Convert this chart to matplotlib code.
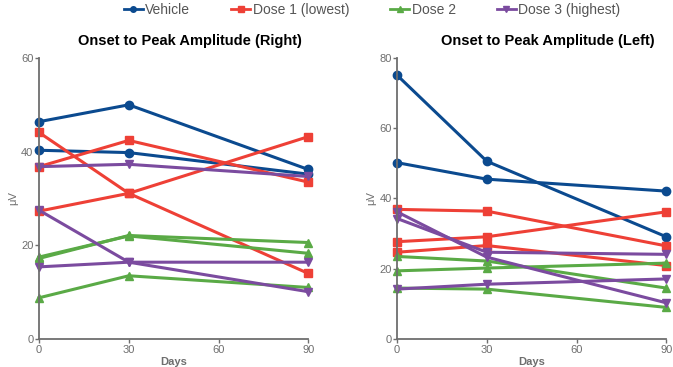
import matplotlib
matplotlib.use("Agg")
import matplotlib.pyplot as plt
from matplotlib.lines import Line2D

plt.rcParams["font.family"] = ["Liberation Sans", "DejaVu Sans"]

days = [0, 30, 90]

groups = ["Vehicle", "Dose 1 (lowest)", "Dose 2", "Dose 3 (highest)"]
colors = ["#0b4a8f", "#ee4036", "#5aaa46", "#7b4b9f"]
markers = ["o", "s", "^", "v"]

# onset to peak amplitude (µV), one list per animal
right_vehicle = [[46.4, 50.0, 36.2], [40.3, 39.8, 35.2]]
right_dose1 = [[44.1, 31.1, 14.0], [36.8, 42.4, 33.5], [27.3, 31.1, 43.2]]
right_dose2 = [[17.2, 22.1, 20.6], [17.5, 22.0, 18.3], [8.8, 13.5, 11.0]]
right_dose3 = [[36.8, 37.3, 34.7], [27.5, 16.4, 10.1], [15.4, 16.4, 16.4]]

left_vehicle = [[75.1, 50.6, 29.1], [50.2, 45.5, 42.1]]
left_dose1 = [[36.9, 36.4, 26.5], [27.7, 29.1, 36.2], [24.7, 26.6, 20.9]]
left_dose2 = [[23.5, 22.2, 14.5], [19.4, 20.2, 21.6], [14.5, 14.2, 9.0]]
left_dose3 = [[36.2, 23.3, 10.3], [34.3, 24.7, 24.1], [14.2, 15.6, 17.1]]

grey = "#6e6e6e"


def draw_panel(ax, data, title, ymax):
    for series, c, m in zip(data, colors, markers):
        for vals in series:
            ax.plot(days, vals, color=c, marker=m, markersize=6,
                    linewidth=2.2, clip_on=False)
    ax.set_xlim(0, 90)
    ax.set_ylim(0, ymax)
    ax.set_xticks([0, 30, 60, 90])
    ax.set_yticks(range(0, ymax + 1, 20))
    for s in ["top", "right"]:
        ax.spines[s].set_visible(False)
    for s in ["left", "bottom"]:
        ax.spines[s].set_color(grey)
        ax.spines[s].set_linewidth(1.3)
    ax.tick_params(colors=grey, labelsize=8, length=3, width=1, pad=1)
    ax.set_title(title, fontsize=10.5, fontweight="bold", pad=9, x=0.56)
    ax.set_xlabel("Days", fontsize=8, fontweight="bold", color=grey, labelpad=2)
    ax.set_ylabel("μV", fontsize=8, color=grey, labelpad=2)


fig = plt.figure(figsize=(6.73, 3.67), dpi=100)
ax1 = fig.add_axes([0.058, 0.0763, 0.4, 0.7657])
ax2 = fig.add_axes([0.59, 0.0763, 0.4, 0.7657])

draw_panel(ax1, [right_vehicle, right_dose1, right_dose2, right_dose3],
           "Onset to Peak Amplitude (Right)", 60)
draw_panel(ax2, [left_vehicle, left_dose1, left_dose2, left_dose3],
           "Onset to Peak Amplitude (Left)", 80)

handles = [Line2D([], [], color=c, marker=m, markersize=4, linewidth=2)
           for c, m in zip(colors, markers)]
leg = fig.legend(handles, groups, loc="upper left", bbox_to_anchor=(0.165, 1.027),
                 ncol=4, frameon=False, fontsize=10, handlelength=1.4,
                 handletextpad=0.15, columnspacing=2.95)
for t in leg.get_texts():
    t.set_color("#555555")

fig.savefig("out.png", dpi=100)
